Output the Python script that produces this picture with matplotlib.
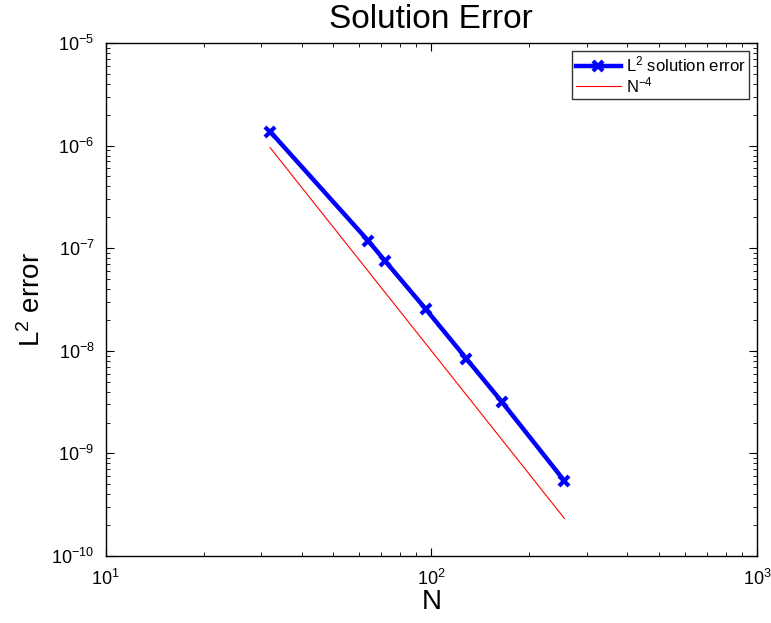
import matplotlib
matplotlib.use("Agg")
import matplotlib.pyplot as plt
import numpy as np

plt.rcParams['font.family'] = ['Liberation Sans', 'DejaVu Sans']
plt.rcParams['mathtext.fontset'] = 'custom'
plt.rcParams['mathtext.rm'] = 'Liberation Sans'
plt.rcParams['mathtext.it'] = 'Liberation Sans:italic'
plt.rcParams['mathtext.bf'] = 'Liberation Sans:bold'

N = [32, 64, 72, 96, 128, 165, 256]
err = [1.37e-6, 1.18e-7, 7.55e-8, 2.56e-8, 8.4e-9, 3.15e-9, 5.4e-10]
ref_N = [32, 256]
ref_power = -4

fig = plt.figure(figsize=(7.71, 6.23), dpi=100)
ax = fig.add_axes([0.137, 0.1075, 0.845, 0.8235])

ax.loglog(N, err, color='blue', lw=3.2, marker='x', ms=7, mew=3,
          label=r'L$^2$ solution error')
ref = [n ** ref_power for n in ref_N]
ax.loglog(ref_N, ref, color='red', lw=0.8, label=r'N$^{-4}$')

ax.set_xlim(10, 1000)
ax.set_ylim(1e-10, 1e-5)
ax.tick_params(which='both', direction='in', top=True, right=True, labelsize=13)
ax.tick_params(which='major', length=6, width=0.8)
ax.tick_params(which='minor', length=3, width=0.6)
ax.tick_params(axis='x', pad=9)
ax.tick_params(axis='y', pad=8)
for s in ax.spines.values():
    s.set_linewidth(1.0)

ax.set_title('Solution Error', fontsize=24, pad=11)
ax.set_xlabel('N', fontsize=20, labelpad=0)
ax.set_ylabel(r'L$^2$ error', fontsize=20, labelpad=4)

leg = ax.legend(loc='upper right', fontsize=12, frameon=True, fancybox=False,
                edgecolor='black', handlelength=2.7, borderpad=0.2,
                labelspacing=0.05, handletextpad=0.3, borderaxespad=0.5,
                markerfirst=True)
leg.get_frame().set_linewidth(1.0)

fig.savefig('out.png', dpi=100)
